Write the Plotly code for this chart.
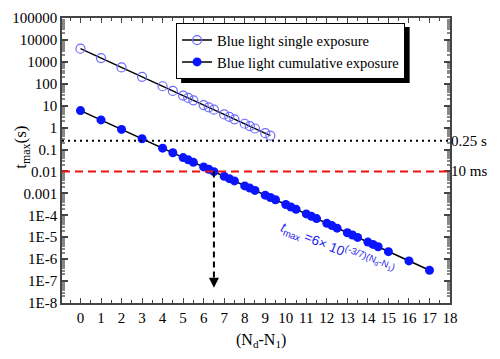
import plotly.graph_objects as go
import math

# ---- data ----
single_x = [0, 1, 2, 3, 4, 4.5, 5, 5.25, 5.5, 6, 6.25, 6.5, 7, 7.25, 7.5, 8, 8.25, 8.5, 9, 9.25]
single_y = [4000, 1490, 556, 207, 77, 47, 28.8, 22.5, 17.6, 10.7, 8.4, 6.6, 4.0, 3.1, 2.4,
            1.5, 1.17, 0.91, 0.56, 0.43]

cum_x = [0, 1, 2, 3, 4, 4.5, 5, 5.25, 5.5, 6, 6.25, 6.5, 7, 7.25, 7.5, 8, 8.25, 8.5, 9, 9.25,
         9.5, 10, 10.25, 10.5, 11, 11.25, 11.5, 12, 12.25, 12.5, 13, 13.25, 13.5, 14, 14.25,
         14.5, 15, 16, 17]
cum_y = [6.0, 2.24, 0.83, 0.31, 0.116, 0.071, 0.043, 0.034, 0.026, 0.0161, 0.0126, 0.0098,
         0.006, 0.0047, 0.0037, 0.0022, 0.00175, 0.00137, 8.3e-4, 6.5e-4, 5.1e-4, 3.1e-4,
         2.4e-4, 1.9e-4, 1.16e-4, 9.0e-5, 7.1e-5, 4.3e-5, 3.4e-5, 2.6e-5, 1.6e-5, 1.26e-5,
         9.8e-6, 6.0e-6, 4.7e-6, 3.7e-6, 2.2e-6, 8.3e-7, 3.1e-7]

ref_exposure = 0.25   # s
ref_ms = 0.01         # s
arrow_x = 6.5
arrow_end = 5e-8

y_tickvals = [10.0 ** k for k in range(5, -9, -1)]
y_ticktext = ["100000", "10000", "1000", "100", "10", "1", "0.1", "0.01", "0.001",
              "1E-4", "1E-5", "1E-6", "1E-7", "1E-8"]
x_tickvals = list(range(0, 19))

serif = "Liberation Serif, Times New Roman, serif"
axis_col = "#444444"

fig = go.Figure()
fig.add_trace(go.Scatter(
    x=single_x, y=single_y, mode="lines+markers", name="Blue light single exposure",
    line=dict(color="black", width=1.5),
    marker=dict(symbol="circle-open", size=9, color="#6b6bff", line=dict(width=1.2)),
))
fig.add_trace(go.Scatter(
    x=cum_x, y=cum_y, mode="lines+markers", name="Blue light cumulative exposure",
    line=dict(color="black", width=1.5),
    marker=dict(symbol="circle", size=9, color="#0a14ff"),
))

minor_y = [m * 10.0 ** k for k in range(-8, 5) for m in range(2, 10)]

fig.update_xaxes(
    range=[-0.9, 18], tickmode="array", tickvals=x_tickvals, automargin=False,
    ticks="inside", ticklen=5, tickwidth=1, tickcolor=axis_col,
    showline=True, linecolor=axis_col, linewidth=1.5, mirror="ticks",
    showgrid=False, zeroline=False,
    minor=dict(dtick=0.5, tick0=0, ticks="inside", ticklen=3, tickcolor=axis_col),
    tickfont=dict(family=serif, size=15, color="black"),
)
fig.update_yaxes(
    type="log", range=[-8, 5], tickmode="array", tickvals=y_tickvals, ticktext=y_ticktext,
    automargin=False,
    ticks="inside", ticklen=6, tickwidth=1.5, tickcolor=axis_col,
    showline=True, linecolor=axis_col, linewidth=1.5, mirror="ticks",
    showgrid=False, zeroline=False,
    minor=dict(tickmode="array", tickvals=minor_y, ticks="inside", ticklen=3, tickcolor="#888888"),
    tickfont=dict(family=serif, size=15, color="black"),
)

# axis titles
fig.add_annotation(x=0, y=0.545, xref="paper", yref="paper", xshift=-40, textangle=-90,
                   xanchor="center", yanchor="middle",
                   text="t<sub>max</sub>(s)", showarrow=False,
                   font=dict(family=serif, size=17, color="black"))
fig.add_annotation(x=0.513, y=0, xref="paper", yref="paper", yshift=-37,
                   xanchor="center", yanchor="middle",
                   text="(N<sub>d</sub>-N<sub>1</sub>)", showarrow=False,
                   font=dict(family=serif, size=16, color="black"))

# reference lines
fig.add_shape(type="line", xref="paper", yref="y", x0=0, x1=1, y0=ref_exposure, y1=ref_exposure,
              line=dict(color="black", width=2, dash="2px,4px"))
fig.add_shape(type="line", xref="paper", yref="y", x0=0, x1=1, y0=ref_ms, y1=ref_ms,
              line=dict(color="#ee1111", width=2, dash="8px,5px"))
fig.add_shape(type="line", xref="x", yref="y", x0=arrow_x, x1=arrow_x, y0=ref_ms, y1=arrow_end * 1.6,
              line=dict(color="black", width=2, dash="6px,4px"))
fig.add_annotation(x=arrow_x, y=math.log10(arrow_end), ax=0, ay=-10, xref="x", yref="y",
                   showarrow=True, arrowhead=2, arrowsize=1, arrowwidth=2, arrowcolor="black", text="")

fig.add_annotation(x=1, y=math.log10(ref_exposure), xref="paper", yref="y", text="0.25 s",
                   showarrow=False, xanchor="left", xshift=-1, font=dict(family=serif, size=15, color="black"))
fig.add_annotation(x=1, y=math.log10(ref_ms), xref="paper", yref="y", text="10 ms",
                   showarrow=False, xanchor="left", xshift=-1, font=dict(family=serif, size=15, color="black"))

fig.add_annotation(
    x=12.5, y=-5.55, xref="x", yref="y", showarrow=False, textangle=22,
    text="<i>t</i><sub>max</sub> =6× 10<sup>(-3/7)(N<sub>d</sub>-N<sub>1</sub>)</sup>",
    font=dict(family="Liberation Sans", size=13.5, color="#2222ee"),
)

# legend shadow
fig.add_shape(type="rect", xref="paper", yref="paper", x0=0.307, x1=0.896, y0=0.772, y1=0.968,
              fillcolor="black", line=dict(width=0), layer="below")

fig.update_layout(
    width=492, height=351,
    margin=dict(l=54, r=50, t=10, b=56),
    plot_bgcolor="white", paper_bgcolor="white",
    showlegend=True,
    legend=dict(x=0.294, y=0.982, xanchor="left", yanchor="top",
                bgcolor="white", bordercolor="black", borderwidth=1,
                font=dict(family=serif, size=14.5, color="black"),
                itemwidth=30, tracegroupgap=0),
)

fig.write_html("out.html")
